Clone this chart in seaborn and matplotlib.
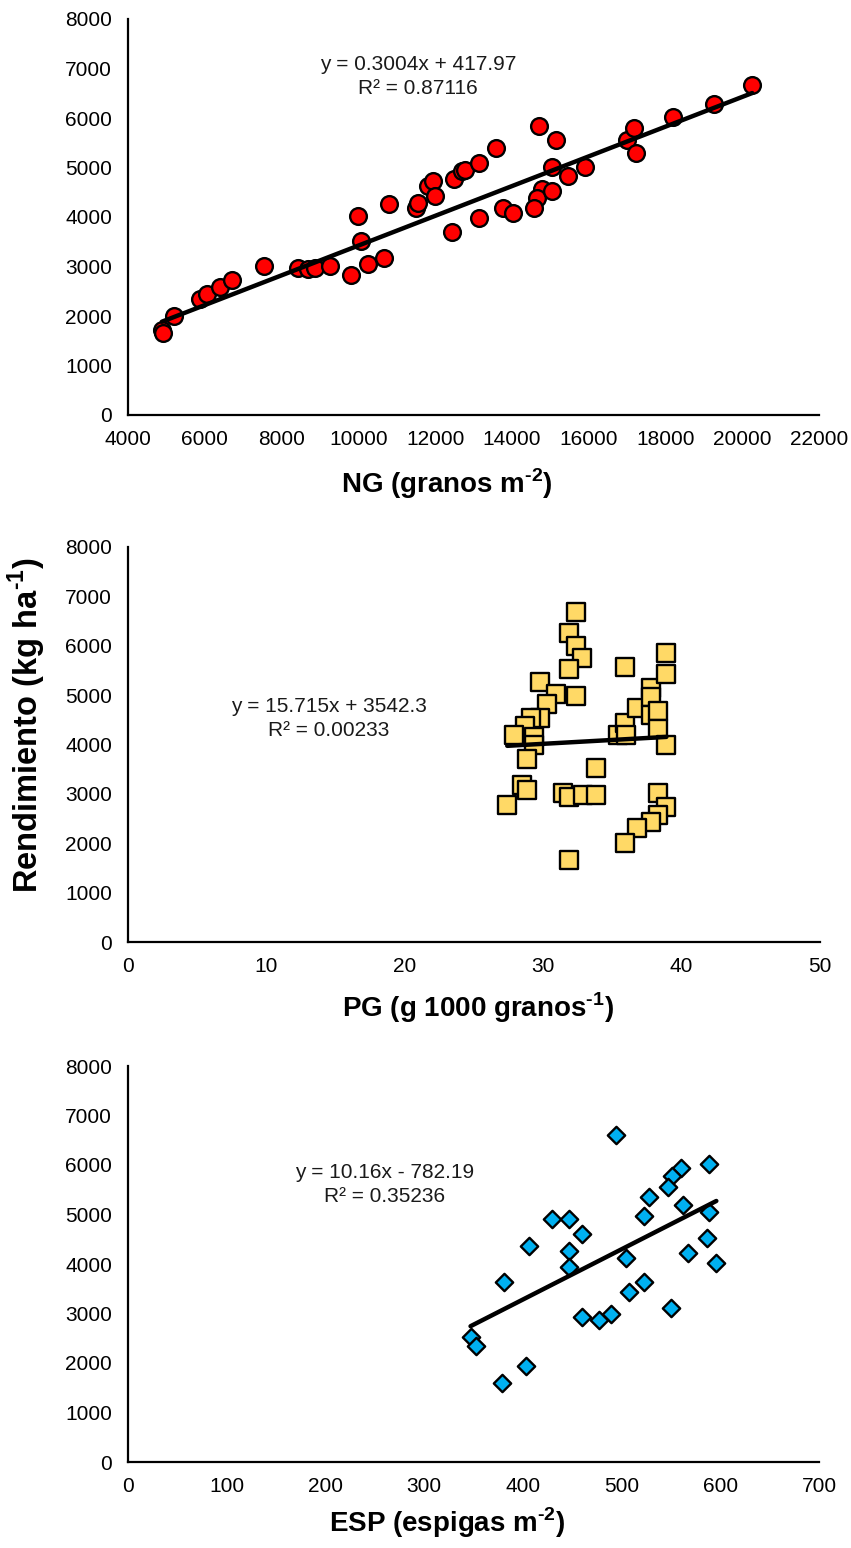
import numpy as np
import pandas as pd
import seaborn as sns
from matplotlib import pyplot as plt

sns.set_style('white')
plt.rcParams['font.family'] = ['Liberation Sans', 'DejaVu Sans']
plt.rcParams['mathtext.fontset'] = 'custom'
plt.rcParams['mathtext.rm'] = 'Liberation Sans'
plt.rcParams['mathtext.bf'] = 'Liberation Sans:bold'
plt.rcParams['text.color'] = 'black'

#------------------------------------------------------------------------------
# Data
#------------------------------------------------------------------------------
ng = [4880, 4900, 5200, 5880, 6070, 6400, 6720, 7530, 8420, 8680,
      8880, 9250, 9800, 9990, 10060, 10250, 10680, 10810, 11490, 11550,
      11810, 11950, 11990, 12440, 12490, 12690, 12770, 13150, 13580, 13150,
      13770, 14030, 14710, 15150, 15040, 15470, 15910, 14775, 14645, 15040,
      14580, 16990, 17170, 17240, 18190, 19260, 20260]
rend_ng = [1720, 1650, 1990, 2340, 2440, 2580, 2720, 3010, 2970, 2950,
           2960, 3010, 2820, 4030, 3510, 3050, 3170, 4270, 4180, 4280,
           4620, 4720, 4430, 3700, 4770, 4920, 4950, 5100, 5400, 3980,
           4180, 4080, 5830, 5550, 5020, 4820, 5010, 4560, 4390, 4520,
           4180, 5550, 5800, 5300, 6030, 6280, 6670]

pg = [32.4, 31.9, 32.4, 32.8, 31.9, 32.4, 29.8, 30.9, 30.3, 29.8,
      29.1, 28.7, 27.9, 29.3, 29.3, 28.8, 28.5, 28.8, 27.4, 31.9,
      31.4, 31.9, 32.9, 33.8, 33.8, 35.9, 35.4, 35.9, 36.0, 36.8,
      37.8, 37.8, 37.8, 38.3, 38.3, 38.9, 38.9, 38.9, 38.3, 38.9,
      38.3, 37.8, 36.8, 35.9]
rend_pg = [6690, 6250, 5990, 5760, 5520, 4980, 5270, 5030, 4830, 4540,
           4540, 4380, 4190, 4160, 3990, 3700, 3180, 3080, 2770, 1660,
           3020, 2930, 2980, 2980, 3520, 5560, 4190, 4430, 4190, 4740,
           5140, 4970, 4600, 4680, 4310, 5860, 5420, 4000, 3020, 2730,
           2570, 2440, 2300, 2000]

esp = [494, 589, 560, 551, 547, 528, 562, 589, 523, 430,
       447, 460, 406, 447, 587, 567, 596, 504, 447, 381,
       523, 508, 550, 489, 477, 460, 347, 353, 403, 379]
rend_esp = [6610, 6030, 5930, 5780, 5560, 5350, 5190, 5060, 4960, 4910,
            4910, 4610, 4370, 4270, 4520, 4220, 4030, 4130, 3930, 3640,
            3640, 3440, 3110, 3000, 2870, 2920, 2530, 2350, 1940, 1600]

# trendline coefficients as printed on the chart (slope, intercept, R2)
slopes = [0.3004, 15.715, 10.16]
intercepts = [417.97, 3542.3, -782.19]
r2 = [0.87116, 0.00233, 0.35236]

#------------------------------------------------------------------------------
# Figure
#------------------------------------------------------------------------------
W, H = 851, 1548
fig = plt.figure(figsize=(W / 100, H / 100), dpi=100)

def px_axes(l, t, r, b):
    return fig.add_axes([l / W, 1 - b / H, (r - l) / W, (b - t) / H])

ax0 = px_axes(128, 19, 819, 415)
ax1 = px_axes(128, 547, 820, 942)
ax2 = px_axes(128, 1066, 819, 1462)

panels = [
    (ax0, ng, rend_ng, 'o', '#FF0000', 145, (4000, 22000, 2000)),
    (ax1, pg, rend_pg, 's', '#FFD966', 165, (0, 50, 10)),
    (ax2, esp, rend_esp, 'D', '#00B0F0', 78, (0, 700, 100)),
]

for i, (ax, x, y, mk, col, size, (x0, x1, step)) in enumerate(panels):
    sns.scatterplot(x=x, y=y, ax=ax, marker=mk, color=col, edgecolor='black',
                    linewidth=1.7, s=size, zorder=2)
    xs = np.array([min(x), max(x)])
    trend = pd.DataFrame({'x': xs, 'y': slopes[i] * xs + intercepts[i]})
    sns.lineplot(data=trend, x='x', y='y', ax=ax, color='black', lw=3.2, zorder=3)

    ax.set_xlim(x0, x1)
    ax.set_ylim(0, 8000)
    ax.set_xticks(np.arange(x0, x1 + step, step))
    ax.set_yticks(np.arange(0, 8001, 1000))
    ax.spines['right'].set_visible(False)
    ax.spines['top'].set_visible(False)
    for s in ['left', 'bottom']:
        ax.spines[s].set_linewidth(1.6)
        ax.spines[s].set_color('black')
    ax.tick_params(axis='both', direction='out', length=4.5, width=1.5,
                   colors='black', labelsize=15)
    ax.tick_params(axis='y', pad=7)
    ax.tick_params(axis='x', pad=6)
    ax.set_xlabel('')
    ax.set_ylabel('')

# axis titles (superscripts use a plain hyphen, as in the original)
hy = '\u2010'
lab_kw = dict(fontsize=20, fontweight='bold', ha='center', va='center')
fig.text(447 / W, 1 - 484 / H, r'NG (granos m$^{\mathbf{' + hy + '2}}$)', **lab_kw)
fig.text(478 / W, 1 - 1008 / H, r'PG (g 1000 granos$^{\mathbf{' + hy + '1}}$)', **lab_kw)
fig.text(447 / W, 1 - 1523 / H, r'ESP (espigas m$^{\mathbf{' + hy + '2}}$)', **lab_kw)
fig.text(27 / W, 1 - 725 / H, r'Rendimiento (kg ha$^{\mathbf{' + hy + '1}}$)',
         rotation=90, fontsize=23.5, fontweight='bold', ha='center', va='center')

# trendline equations
def eq_text(i, cx, cy1, cy2):
    sign = '+' if intercepts[i] >= 0 else '-'
    line1 = f'y = {slopes[i]}x {sign} {abs(intercepts[i])}'
    line2 = f'R² = {r2[i]}'
    kw = dict(fontsize=15, color='#1a1a1a', ha='center', va='center')
    fig.text(cx / W, 1 - cy1 / H, line1, **kw)
    fig.text(cx / W, 1 - cy2 / H, line2, **kw)

eq_text(0, 418, 65, 88)
eq_text(1, 329, 706, 731)
eq_text(2, 385, 1172, 1197)

plt.savefig('out.png', dpi=100)
